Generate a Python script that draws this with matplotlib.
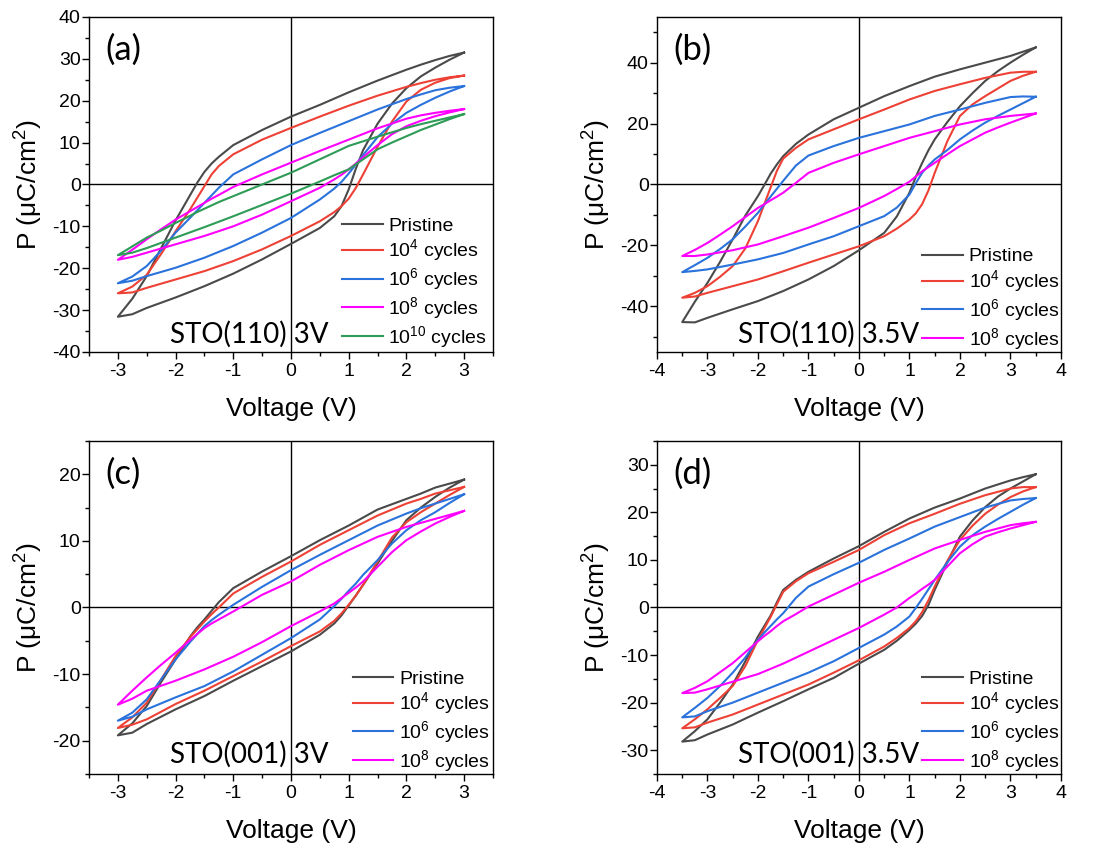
import matplotlib
matplotlib.use("Agg")
import matplotlib.pyplot as plt
from matplotlib.ticker import MultipleLocator

plt.rcParams['font.family'] = ['Liberation Sans', 'DejaVu Sans']
plt.rcParams['mathtext.default'] = 'regular'
plt.rcParams['axes.unicode_minus'] = False

# loop voltages: upper branch (+Vmax -> -Vmax) then lower branch (-Vmax -> +Vmax)
V_3V = [3.0, 2.75, 2.5, 2.25, 2.0, 1.5, 1.0, 0.5, 0.0, -0.5, -1.0, -1.25, -1.375, -1.5, -1.625, -1.75, -2.0, -2.25, -2.5, -2.75, -3.0,
        -2.75, -2.5, -2.0, -1.5, -1.0, -0.5, 0.0, 0.5, 0.75, 0.875, 1.0, 1.125, 1.25, 1.5, 1.75, 2.0, 2.25, 2.5, 2.75, 3.0]
V_35V = [3.5, 3.25, 3.0, 2.5, 2.0, 1.5, 1.0, 0.5, 0.0, -0.5, -1.0, -1.25, -1.5, -1.625, -1.75, -1.875, -2.0, -2.25, -2.5, -2.75, -3.0, -3.25, -3.5,
         -3.25, -3.0, -2.5, -2.0, -1.5, -1.0, -0.5, 0.0, 0.5, 0.75, 1.0, 1.125, 1.25, 1.375, 1.5, 1.75, 2.0, 2.25, 2.5, 2.75, 3.0, 3.25, 3.5]

# (a) STO(110) 3V
A_PRISTINE = [31.5, 30.7, 29.7, 28.6, 27.4, 24.8, 22.0, 19.0, 16.2, 13.0, 9.4, 6.6, 5.0, 3.0, 0.4, -2.6, -8.6, -15.2, -21.9, -27.3, -31.6,
              -31.0, -29.5, -27.0, -24.3, -21.3, -17.9, -14.2, -10.4, -7.6, -5.2, -1.2, 3.8, 8.2, 14.5, 19.3, 23.0, 25.8, 27.9, 29.8, 31.5]
A_1E4 = [26.0, 25.6, 25.0, 24.2, 23.3, 21.2, 18.8, 16.2, 13.5, 10.7, 7.2, 4.4, 2.4, -0.4, -3.2, -6.0, -11.2, -16.6, -21.6, -24.4, -26.0,
         -25.8, -24.7, -22.7, -20.7, -18.3, -15.5, -12.3, -8.8, -6.6, -5.2, -3.4, -0.8, 2.4, 9.0, 15.0, 19.8, 22.6, 24.3, 25.4, 26.0]
A_1E6 = [23.5, 23.1, 22.5, 21.5, 20.4, 17.9, 15.1, 12.3, 9.4, 6.0, 2.4, -0.8, -2.6, -4.4, -6.2, -8.0, -11.5, -15.8, -19.5, -22.0, -23.6,
         -23.0, -21.9, -19.9, -17.5, -14.7, -11.5, -8.0, -3.6, -1.0, 0.6, 2.6, 4.8, 7.0, 11.3, 14.5, 17.1, 19.0, 20.7, 22.2, 23.5]
A_1E8 = [18.0, 17.6, 17.1, 16.5, 15.7, 13.4, 10.7, 8.0, 5.2, 2.4, -0.6, -2.5, -3.4, -4.4, -5.4, -6.4, -8.4, -10.7, -13.1, -15.6, -18.0,
         -17.3, -16.3, -14.3, -12.3, -10.0, -7.2, -4.0, -0.8, 1.2, 2.3, 3.6, 5.0, 6.5, 9.4, 12.0, 13.9, 15.2, 16.3, 17.2, 18.0]
A_1E10 = [16.8, 16.0, 15.2, 14.4, 13.5, 11.4, 9.2, 6.0, 2.8, 0.0, -2.8, -4.2, -5.0, -5.8, -6.6, -7.5, -9.2, -11.0, -12.7, -14.8, -16.9,
          -16.3, -15.2, -12.7, -10.2, -7.6, -4.9, -2.2, 0.7, 2.2, 2.9, 3.6, 4.8, 6.0, 8.4, 10.0, 11.5, 13.0, 14.3, 15.6, 16.8]

# (b) STO(110) 3.5V
B_PRISTINE = [45.0, 43.6, 42.2, 40.0, 37.8, 35.4, 32.3, 29.0, 25.2, 21.4, 16.4, 13.3, 9.3, 6.6, 3.5, -0.2, -3.8, -10.2, -18.0, -25.4, -32.3, -38.5, -45.2,
              -45.3, -43.8, -41.0, -38.3, -35.0, -31.2, -26.8, -21.6, -15.9, -10.5, -2.7, 2.5, 7.0, 11.2, 14.8, 20.5, 25.7, 30.0, 34.0, 37.2, 40.0, 42.6, 45.0]
B_1E4 = [37.0, 37.0, 36.7, 35.0, 32.9, 30.7, 27.9, 24.6, 21.4, 18.1, 14.8, 12.0, 8.5, 4.5, -1.0, -6.5, -12.0, -21.0, -26.8, -30.3, -33.4, -35.6, -37.2,
         -36.8, -35.6, -33.4, -31.2, -28.5, -25.7, -23.0, -20.3, -17.0, -14.5, -11.5, -9.5, -6.5, -2.0, 3.8, 14.2, 22.5, 26.3, 29.0, 31.5, 34.0, 35.7, 37.0]
B_1E6 = [28.8, 28.9, 28.7, 26.8, 24.6, 22.5, 19.7, 17.5, 15.3, 12.6, 9.5, 6.2, 1.2, -1.4, -4.0, -6.6, -9.3, -13.8, -18.0, -21.2, -24.1, -26.5, -28.8,
         -28.4, -27.9, -26.3, -24.6, -22.5, -19.7, -17.0, -13.7, -10.4, -7.6, -3.3, 0.4, 3.8, 6.2, 8.2, 11.3, 14.8, 17.7, 20.3, 22.5, 24.6, 26.7, 28.8]
B_1E8 = [23.3, 22.9, 22.5, 21.4, 19.7, 17.5, 15.3, 12.6, 9.9, 7.1, 3.8, 0.5, -2.7, -4.0, -5.2, -6.5, -7.7, -10.7, -13.7, -16.5, -19.2, -21.5, -23.5,
         -23.5, -23.0, -21.6, -19.7, -17.0, -14.2, -11.0, -7.7, -3.8, -1.5, 0.9, 2.6, 4.3, 5.7, 7.1, 9.9, 12.6, 14.8, 17.0, 18.7, 20.3, 21.8, 23.3]

# (c) STO(001) 3V
C_PRISTINE = [19.2, 18.6, 18.0, 17.1, 16.3, 14.7, 12.3, 10.1, 7.7, 5.4, 2.9, 0.8, -0.5, -1.8, -3.0, -4.4, -7.8, -11.2, -14.8, -17.4, -19.2,
              -18.8, -17.5, -15.3, -13.3, -11.0, -8.8, -6.6, -4.1, -2.4, -1.2, 0.3, 1.8, 3.4, 6.6, 10.0, 13.1, 15.0, 16.6, 18.0, 19.2]
C_1E4 = [18.1, 17.6, 17.1, 16.3, 15.6, 13.8, 11.6, 9.4, 6.9, 4.6, 2.1, 0.0, -1.0, -2.1, -3.3, -4.5, -7.3, -10.8, -14.3, -16.5, -18.1,
         -17.6, -16.8, -14.5, -12.5, -10.3, -8.1, -5.8, -3.6, -2.0, -0.9, 0.4, 1.8, 3.4, 6.9, 10.5, 12.8, 14.3, 15.6, 16.9, 18.1]
C_1E6 = [17.0, 16.3, 15.6, 14.9, 14.1, 12.3, 10.1, 7.9, 5.6, 3.1, 0.4, -1.1, -1.9, -2.8, -4.0, -5.2, -7.8, -10.8, -13.8, -15.8, -17.0,
         -16.4, -15.3, -13.5, -11.8, -9.6, -7.1, -4.6, -1.8, 0.2, 1.3, 2.5, 3.6, 4.9, 7.1, 9.6, 11.6, 13.1, 14.3, 15.7, 17.0]
C_1E8 = [14.5, 13.9, 13.3, 12.7, 12.1, 10.6, 8.6, 6.4, 3.9, 1.9, -0.6, -1.8, -2.4, -3.1, -4.0, -4.9, -6.8, -8.6, -10.5, -12.5, -14.6,
         -13.7, -12.5, -11.0, -9.3, -7.4, -5.2, -2.8, -0.6, 0.6, 1.4, 2.2, 3.0, 3.9, 6.1, 8.3, 10.1, 11.4, 12.6, 13.6, 14.5]

# (d) STO(001) 3.5V
D_PRISTINE = [28.0, 27.4, 26.7, 25.0, 22.9, 21.0, 18.7, 15.9, 12.9, 10.3, 7.5, 5.8, 3.7, 1.1, -1.7, -3.9, -6.1, -11.3, -16.2, -20.0, -23.5, -26.0, -28.2,
              -27.9, -26.7, -24.6, -22.1, -19.7, -17.2, -14.8, -11.8, -8.9, -7.0, -4.7, -3.4, -1.8, 0.5, 3.7, 9.5, 14.9, 18.3, 21.1, 23.3, 25.0, 26.5, 28.0]
D_1E4 = [25.3, 25.3, 25.0, 23.6, 21.8, 19.7, 17.7, 15.2, 12.1, 9.6, 7.2, 5.5, 3.3, 0.7, -2.0, -4.4, -6.8, -12.3, -16.5, -19.0, -21.4, -23.5, -25.4,
         -25.2, -24.2, -22.5, -20.4, -18.3, -16.2, -13.7, -11.1, -8.2, -6.4, -4.3, -2.9, -1.0, 1.5, 4.4, 9.8, 14.2, 17.2, 19.7, 21.6, 23.2, 24.4, 25.3]
D_1E6 = [23.0, 22.8, 22.5, 21.0, 19.0, 17.0, 14.5, 12.1, 9.4, 7.0, 4.4, 2.0, -1.2, -2.5, -3.9, -5.3, -6.8, -10.5, -13.7, -16.5, -19.0, -21.1, -23.1,
         -22.9, -21.8, -20.0, -17.9, -15.8, -13.7, -11.3, -8.5, -5.7, -4.0, -1.9, -0.1, 1.8, 3.8, 5.8, 9.5, 12.8, 15.2, 17.0, 18.6, 20.1, 21.6, 23.0]
D_1E8 = [18.0, 17.7, 17.3, 15.9, 14.2, 12.4, 10.0, 7.5, 5.2, 2.7, 0.2, -1.4, -2.9, -3.9, -5.0, -6.0, -7.1, -9.4, -11.7, -13.6, -15.5, -16.9, -18.0,
         -17.9, -17.2, -15.6, -14.0, -11.8, -9.3, -6.8, -4.3, -1.5, 0.0, 2.0, 2.9, 3.9, 4.8, 5.8, 8.6, 11.4, 13.3, 14.9, 15.8, 16.6, 17.3, 18.0]

LABELS = ['Pristine', '10$^{4}$ cycles', '10$^{6}$ cycles', '10$^{8}$ cycles', '10$^{10}$ cycles']
COLORS = ['#4a4a4a', '#ee4136', '#2a72dc', '#ff00ff', '#2e9b57']


def panel(fig, rect, volts, loops, letter, sample, xlim, ylim, ymajor, yminor, txt_y, leg_x, leg_y):
    ax = fig.add_axes(rect)
    for i, p in enumerate(loops):
        ax.plot(volts, p, color=COLORS[i], lw=1.5, label=LABELS[i])
    ax.axhline(0, color='k', lw=1.0, zorder=0)
    ax.axvline(0, color='k', lw=1.0, zorder=0)
    ax.set_xlim(*xlim)
    ax.set_ylim(*ylim)
    ax.xaxis.set_major_locator(MultipleLocator(1))
    ax.xaxis.set_minor_locator(MultipleLocator(0.5))
    ax.yaxis.set_major_locator(MultipleLocator(ymajor))
    ax.yaxis.set_minor_locator(MultipleLocator(yminor))
    ax.tick_params(which='major', direction='out', length=5, width=1, labelsize=14)
    ax.tick_params(which='minor', direction='out', length=3, width=1)
    ax.tick_params(axis='x', pad=3)
    ax.tick_params(axis='y', pad=1)
    for s in ax.spines.values():
        s.set_linewidth(1.0)
    ax.set_xlabel('Voltage (V)', fontsize=19, labelpad=12)
    ax.set_ylabel('P (\u03bcC/cm$^{2}$)', fontsize=19, labelpad=5)
    ax.text(0.04, 0.95, letter, transform=ax.transAxes, fontsize=25, family='Lato', va='top', ha='left')
    ax.text(0.2, txt_y, sample, transform=ax.transAxes, fontsize=20, family='Lato', va='baseline', ha='left')
    ax.legend(loc='lower right', bbox_to_anchor=(leg_x, leg_y), frameon=False, fontsize=14,
              handlelength=2.1, handletextpad=0.3, labelspacing=0.15, borderpad=0, borderaxespad=0)
    return ax


fig = plt.figure(figsize=(11.07, 8.48), dpi=100)
panel(fig, [0.0804, 0.585, 0.3649, 0.395], V_3V, [A_PRISTINE, A_1E4, A_1E6, A_1E8, A_1E10],
      '(a)', 'STO(110) 3V', (-3.5, 3.5), (-40, 40), 10, 5, 0.027, 0.985, 0.006)
panel(fig, [0.5935, 0.585, 0.3649, 0.395], V_35V, [B_PRISTINE, B_1E4, B_1E6, B_1E8],
      '(b)', 'STO(110) 3.5V', (-4, 4), (-55, 55), 20, 10, 0.027, 0.997, 0.0)
panel(fig, [0.0804, 0.0873, 0.3649, 0.3927], V_3V, [C_PRISTINE, C_1E4, C_1E6, C_1E8],
      '(c)', 'STO(001) 3V', (-3.5, 3.5), (-25, 25), 10, 5, 0.033, 0.993, 0.0)
panel(fig, [0.5935, 0.0873, 0.3649, 0.3927], V_35V, [D_PRISTINE, D_1E4, D_1E6, D_1E8],
      '(d)', 'STO(001) 3.5V', (-4, 4), (-35, 35), 10, 5, 0.033, 0.997, 0.0)

fig.savefig('out.png', dpi=100)
